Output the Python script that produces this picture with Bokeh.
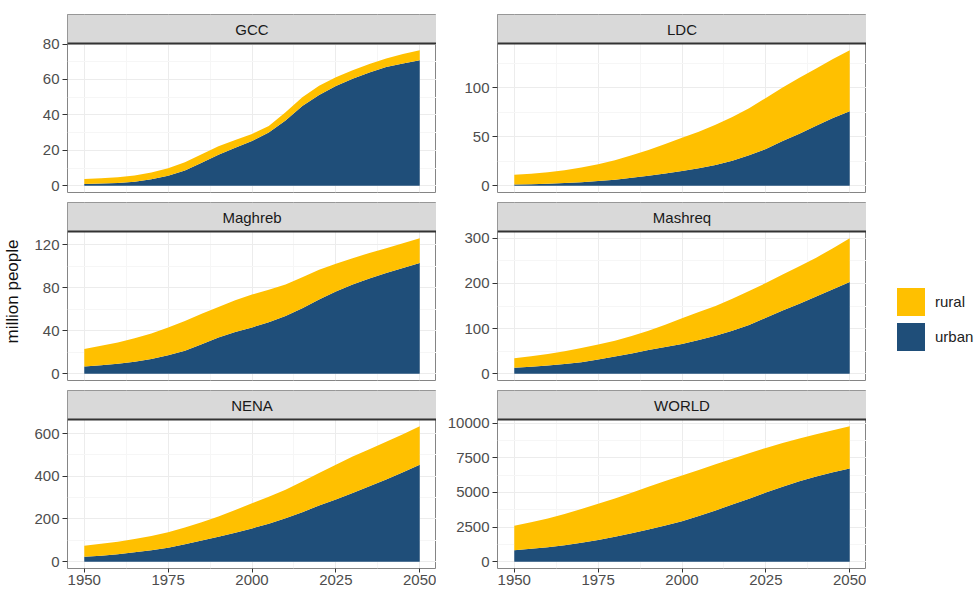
from bokeh.plotting import figure
from bokeh.models import (ColumnDataSource, Range1d, FixedTicker, LinearAxis,
                          Grid, Span, Legend, LegendItem, BoxAnnotation, Label)
from bokeh.layouts import row, column
from bokeh.embed import file_html
from bokeh.resources import INLINE

# ---------------------------------------------------------------- data
years = list(range(1950, 2051, 5))

gcc_urban = [1.0, 1.2, 1.6, 2.3, 3.6, 5.6, 8.6, 13.0, 17.5, 21.5, 25.3,
             30.0, 36.8, 45.0, 51.2, 56.3, 60.4, 63.9, 67.0, 69.0, 70.8]
gcc_rural = [2.8, 3.0, 3.2, 3.5, 3.9, 4.3, 4.7, 4.8, 4.8, 4.3, 3.9,
             3.8, 4.7, 5.0, 5.3, 5.0, 4.8, 4.9, 4.8, 5.4, 5.7]

ldc_urban = [1.2, 1.6, 2.1, 2.8, 3.6, 4.8, 6.0, 8.0, 10.2, 12.5, 15.0,
             17.8, 21.0, 25.5, 31.0, 37.5, 45.5, 53.0, 61.0, 69.0, 76.0]
ldc_rural = [10.0, 10.7, 11.7, 13.0, 14.9, 17.2, 20.0, 23.0, 26.3, 30.0, 34.0,
             37.2, 41.0, 44.5, 48.0, 52.0, 54.5, 57.0, 58.5, 60.0, 62.0]

maghreb_urban = [6.8, 7.8, 9.2, 11.2, 13.8, 17.3, 21.5, 27.5, 33.8, 38.8, 43.1,
                 48.0, 53.8, 61.0, 69.2, 76.5, 83.1, 88.8, 93.8, 98.5, 103.1]
maghreb_rural = [16.3, 18.2, 20.0, 21.8, 23.7, 25.7, 27.7, 28.3, 28.4, 29.7, 30.7,
                 30.2, 29.3, 29.0, 27.7, 26.0, 24.6, 23.7, 23.1, 23.0, 23.1]

mashreq_urban = [13.2, 15.5, 18.3, 21.7, 25.6, 31.5, 38.0, 45.0, 52.7, 59.0, 66.0,
                 74.5, 84.0, 95.0, 108.0, 124.0, 140.0, 155.0, 171.0, 187.0, 203.0]
mashreq_rural = [21.2, 23.3, 25.6, 28.3, 31.4, 33.0, 35.2, 38.5, 42.3, 49.5, 56.9,
                 62.0, 66.0, 71.0, 75.0, 77.0, 79.5, 83.0, 86.0, 91.0, 97.0]

nena_urban = [23, 28, 35, 44, 54, 66, 82, 99, 117, 136, 156,
              178, 203, 232, 263, 291, 322, 353, 385, 419, 454]
nena_rural = [52, 56, 59, 62, 67, 72, 78, 86, 95, 106, 118,
              126, 134, 144, 152, 163, 171, 174, 176, 178, 180]

world_urban = [830, 930, 1040, 1190, 1360, 1570, 1800, 2050, 2330, 2620, 2920,
               3300, 3700, 4120, 4550, 4990, 5400, 5800, 6150, 6450, 6720]
world_rural = [1770, 1920, 2080, 2260, 2440, 2610, 2760, 2930, 3070, 3200, 3300,
               3320, 3330, 3310, 3280, 3220, 3160, 3090, 3050, 3040, 3050]

regions = ["GCC", "LDC", "Maghreb", "Mashreq", "NENA", "WORLD"]
urban_series = [gcc_urban, ldc_urban, maghreb_urban, mashreq_urban, nena_urban, world_urban]
rural_series = [gcc_rural, ldc_rural, maghreb_rural, mashreq_rural, nena_rural, world_rural]

y_breaks = [
    [0, 20, 40, 60, 80],
    [0, 50, 100],
    [0, 40, 80, 120],
    [0, 100, 200, 300],
    [0, 200, 400, 600],
    [0, 2500, 5000, 7500, 10000],
]
x_breaks = [1950, 1975, 2000, 2025, 2050]

y_title = "million people"
series_labels = ["rural", "urban"]

# ---------------------------------------------------------------- style
URBAN = "#1f4e79"
RURAL = "#ffc000"
FONT = "Liberation Sans"
BORDER = "#858585"
GRID_MAJOR = "#ececec"
GRID_MINOR = "#f6f6f6"

FRAME_W = 369      # panel width in px
PANEL_H = 149      # plotting area height in px
STRIP_H = 29       # facet strip height in px
LEFT_BORDER = [67, 61]
TOP_BORDER = [14, 0, 0]
BOTTOM_BORDER = [10, 10, 24]


def minor_between(breaks, lo, hi):
    step = breaks[1] - breaks[0]
    mids = [b + step / 2 for b in [breaks[0] - step] + breaks]
    return [m for m in mids if lo <= m <= hi]


def style_axis(ax, tick_out, standoff):
    ax.axis_line_color = None
    ax.major_tick_line_color = "#333333"
    ax.major_tick_out = tick_out
    ax.major_tick_in = 0
    ax.minor_tick_line_color = None
    ax.major_label_text_font = FONT
    ax.major_label_text_font_size = "15px"
    ax.major_label_text_color = "#4d4d4d"
    ax.major_label_standoff = standoff


def make_cell(idx, col, r):
    """One facet: grey strip with the region name on top of a stacked area panel."""
    name = regions[idx]
    urban = urban_series[idx]
    rural = rural_series[idx]
    breaks = y_breaks[idx]
    left = LEFT_BORDER[col]
    top_b = TOP_BORDER[r]
    bottom_b = BOTTOM_BORDER[r]

    totals = [u + v for u, v in zip(urban, rural)]
    ymax = max(totals)
    y_lo, y_hi = -0.05 * ymax, 1.05 * ymax
    # extend the range upward so the strip sits inside the frame
    y_top = y_hi + (y_hi - y_lo) * STRIP_H / PANEL_H
    span = years[-1] - years[0]
    x_lo, x_hi = years[0] - 0.05 * span, years[-1] + 0.05 * span

    p = figure(width=left + FRAME_W, height=top_b + STRIP_H + PANEL_H + bottom_b,
               x_range=Range1d(x_lo, x_hi), y_range=Range1d(y_lo, y_top),
               x_axis_type=None, y_axis_type=None,
               toolbar_location=None, output_backend="svg",
               min_border_left=left, min_border_right=0,
               min_border_top=top_b, min_border_bottom=bottom_b,
               background_fill_color="white", border_fill_color="white",
               outline_line_color=BORDER, outline_line_width=1)

    yticker = FixedTicker(ticks=breaks, minor_ticks=minor_between(breaks, y_lo, y_hi))
    xticker = FixedTicker(ticks=x_breaks, minor_ticks=minor_between(x_breaks, x_lo, x_hi))

    p.add_layout(Grid(dimension=0, ticker=xticker,
                      grid_line_color=GRID_MAJOR, grid_line_width=1,
                      minor_grid_line_color=GRID_MINOR, minor_grid_line_width=1))
    p.add_layout(Grid(dimension=1, ticker=yticker,
                      grid_line_color=GRID_MAJOR, grid_line_width=1,
                      minor_grid_line_color=GRID_MINOR, minor_grid_line_width=1))

    yaxis = LinearAxis(ticker=yticker)
    style_axis(yaxis, 5, 3)
    if idx == 2:
        yaxis.axis_label = y_title
        yaxis.axis_label_text_font = FONT
        yaxis.axis_label_text_font_size = "17px"
        yaxis.axis_label_text_font_style = "normal"
        yaxis.axis_label_text_color = "#111111"
        yaxis.axis_label_standoff = 9
    p.add_layout(yaxis, "left")

    if r == 2:
        xaxis = LinearAxis(ticker=xticker)
        style_axis(xaxis, 4, 2)
        p.add_layout(xaxis, "below")

    src = ColumnDataSource(dict(year=years, urban=urban, rural=rural))
    p.varea_stack(stackers=["urban", "rural"], x="year",
                  color=[URBAN, RURAL], source=src)

    # facet strip
    p.add_layout(BoxAnnotation(left=x_lo, right=x_hi, bottom=y_hi, top=y_top,
                               fill_color="#d9d9d9", fill_alpha=1,
                               line_color=BORDER, line_width=1))
    p.add_layout(Span(location=y_hi, dimension="width",
                      line_color="#333333", line_width=2))
    p.add_layout(Label(x=(x_lo + x_hi) / 2, y=(y_hi + y_top) / 2, text=name,
                       text_align="center", text_baseline="middle",
                       text_font=FONT, text_font_size="15px",
                       text_color="#1a1a1a"))
    return p


cols = [[], []]
for i in range(len(regions)):
    c, r = i % 2, i // 2
    cols[c].append(make_cell(i, c, r))

# ---------------------------------------------------------------- legend
nan = float("nan")
lg = figure(width=974 - (LEFT_BORDER[0] + FRAME_W) - (LEFT_BORDER[1] + FRAME_W),
            height=592, x_range=Range1d(0, 1), y_range=Range1d(0, 1),
            x_axis_type=None, y_axis_type=None,
            toolbar_location=None, output_backend="svg",
            min_border=0, outline_line_color=None,
            background_fill_color="white", border_fill_color="white")
key_src = ColumnDataSource(dict(l=[nan], r=[nan], t=[nan], b=[nan]))
r_rural = lg.quad(left="l", right="r", top="t", bottom="b", source=key_src,
                  fill_color=RURAL, line_color=None)
r_urban = lg.quad(left="l", right="r", top="t", bottom="b", source=key_src,
                  fill_color=URBAN, line_color=None)
legend = Legend(items=[LegendItem(label=series_labels[0], renderers=[r_rural], index=0),
                       LegendItem(label=series_labels[1], renderers=[r_urban], index=0)],
                location=(27, 238), orientation="vertical",
                glyph_width=35, glyph_height=35, spacing=-4,
                label_standoff=7, padding=0, margin=0,
                label_text_font=FONT, label_text_font_size="15px",
                label_text_color="#222222",
                border_line_color=None, background_fill_alpha=0)
lg.add_layout(legend)

layout = row(column(*cols[0]), column(*cols[1]), lg)

open("out.html", "w").write(file_html(layout, INLINE))
